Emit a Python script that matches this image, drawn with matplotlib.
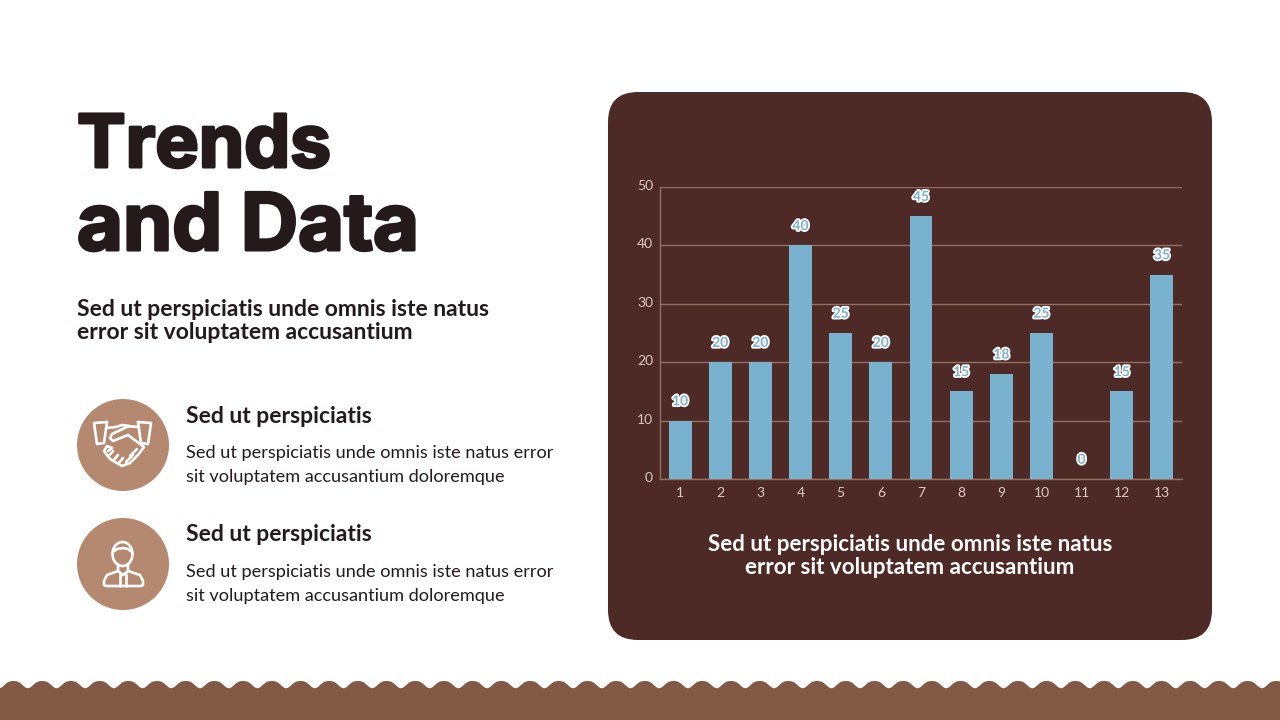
import numpy as np
import matplotlib
matplotlib.use("Agg")
import matplotlib.pyplot as plt
import matplotlib.patheffects as pe
from matplotlib.transforms import ScaledTranslation
from matplotlib.patches import FancyBboxPatch, Circle, Ellipse

categories = [str(i) for i in range(1, 14)]
values = [10, 20, 20, 40, 25, 20, 45, 15, 18, 25, 0, 15, 35]
y_ticks = [0, 10, 20, 30, 40, 50]

title_lines = ["Trends", "and Data"]
subtitle_lines = ["Sed ut perspiciatis unde omnis iste natus", "error sit voluptatem accusantium"]
item_head = "Sed ut perspiciatis"
item_lines = ["Sed ut perspiciatis unde omnis iste natus error", "sit voluptatem accusantium doloremque"]

DARK = "#241a1c"
PANEL = "#4d2a25"
BLUE = "#79b2cf"
TAN = "#b5896f"
GRID = "#947064"
WAVE = "#825945"
TICK = "#dccbc2"

plt.rcParams["font.family"] = ["Lato", "DejaVu Sans"]

fig = plt.figure(figsize=(12.8, 7.2), dpi=100, facecolor="white")

# whole slide in pixel coordinates
bg = fig.add_axes([0, 0, 1, 1])
bg.set_xlim(0, 1280)
bg.set_ylim(720, 0)
bg.axis("off")

# scalloped strip at the bottom
wave_x = np.linspace(0, 1280, 2560)
wave_p = 2 * np.pi * (wave_x - 13.5) / 28.7
wave_y = 684 - 3.6 * np.cos(wave_p) + 0.6 * np.cos(2 * wave_p)
bg.fill_between(wave_x, wave_y, 720, color=WAVE, lw=0)

# dark panel
bg.add_patch(FancyBboxPatch((638, 122), 544, 488, boxstyle="round,pad=30,rounding_size=30",
                            fc=PANEL, ec="none"))

# left column text
heavy = [pe.withStroke(linewidth=2.2, foreground=DARK)]
bg.text(77, 167, title_lines[0], fontsize=52.5, fontweight="bold", family=["Inter", "Lato"], color=DARK,
        va="baseline", path_effects=heavy)
bg.text(77, 250, title_lines[1], fontsize=57, fontweight="bold", family=["Inter", "Lato"], color=DARK,
        va="baseline", path_effects=heavy)
bg.text(77, 316, subtitle_lines[0], fontsize=16.5, fontweight="bold", color=DARK, va="baseline")
bg.text(77, 339, subtitle_lines[1], fontsize=16.5, fontweight="bold", color=DARK, va="baseline")

for cy, head_y, l1, l2 in [(445, 423, 458, 482), (564, 541, 577, 601)]:
    bg.add_patch(Circle((123, cy), 46, fc=TAN, ec="none"))
    bg.text(186, head_y, item_head, fontsize=16.5, fontweight="bold", color=DARK, va="baseline")
    bg.text(186, l1, item_lines[0], fontsize=13.1, color=DARK, va="baseline")
    bg.text(186, l2, item_lines[1], fontsize=13.1, color=DARK, va="baseline")


def icon_line(xs, ys, lw=1.9):
    bg.plot(xs, ys, color="white", lw=lw, solid_capstyle="round", solid_joinstyle="round")


# handshake icon
icon_line([107, 94, 97, 104, 107], [422, 423, 444, 443, 422])
icon_line([138, 151, 148, 141, 138], [422, 423, 444, 443, 422])
icon_line([106, 116, 122, 129], [428, 427, 425, 426])
icon_line([129, 112, 110, 113, 128], [426, 434, 438, 441, 435])
icon_line([125, 139], [426, 427])
icon_line([128, 144, 138, 130, 122, 110, 104, 107, 112], [435, 447, 455, 463, 466, 459, 451, 446, 448])
icon_line([108, 112], [451, 448])
icon_line([108, 113], [457, 451])
icon_line([113, 118], [461, 455])
icon_line([118, 123], [464, 458])
icon_line([130, 137], [456, 449])
icon_line([126, 133], [462, 455])

# person icon
bg.add_patch(Ellipse((122.5, 554), 20, 24, fc="none", ec="white", lw=1.9))
icon_line([113, 117, 123, 128, 132], [552, 549, 548, 549, 552])
icon_line([118, 118, 107, 104, 104, 106, 141, 143, 143, 140, 128, 128],
          [564, 571, 575, 581, 585, 586, 586, 585, 581, 575, 571, 564])
icon_line([118, 123, 128], [571, 575, 571])
icon_line([120, 120], [574, 586])
icon_line([126, 126], [574, 586])

# panel caption
bg.text(910, 551, subtitle_lines[0], fontsize=16.1, fontweight="bold", color="white", ha="center", va="baseline")
bg.text(910, 574, subtitle_lines[1], fontsize=16.1, fontweight="bold", color="white", ha="center", va="baseline")

# bar chart
ax = fig.add_axes([660 / 1280, 1 - 479 / 720, 522 / 1280, 292 / 720])
ax.patch.set_alpha(0)
x = np.arange(1, len(values) + 1)
ax.bar(x, values, width=0.57, color=BLUE, zorder=3)
ax.set_xlim(0.5, 13.5)
ax.set_ylim(0, 50)
ax.set_xticks(x, categories)
ax.set_yticks(y_ticks)
ax.tick_params(length=0, labelsize=10, labelcolor=TICK)
ax.tick_params(axis="x", pad=6)
ax.tick_params(axis="y", pad=5)
ax.grid(axis="y", color=GRID, lw=1, zorder=1)
for name, sp in ax.spines.items():
    sp.set_visible(name in ("left", "bottom"))
    sp.set_color(GRID)
    sp.set_linewidth(1)

# y labels sit a little above their gridlines
up = ScaledTranslation(0, 2 / 100, fig.dpi_scale_trans)
for lab in ax.get_yticklabels():
    lab.set_transform(lab.get_transform() + up)

for xi, v in zip(x, values):
    ax.annotate(str(v), (xi, v), xytext=(0, 11), textcoords="offset points", ha="center", va="baseline",
                fontsize=10, fontweight="bold", color=BLUE, zorder=5,
                path_effects=[pe.withStroke(linewidth=2.5, foreground="white")])

fig.savefig("out.png", dpi=100, facecolor="white")
